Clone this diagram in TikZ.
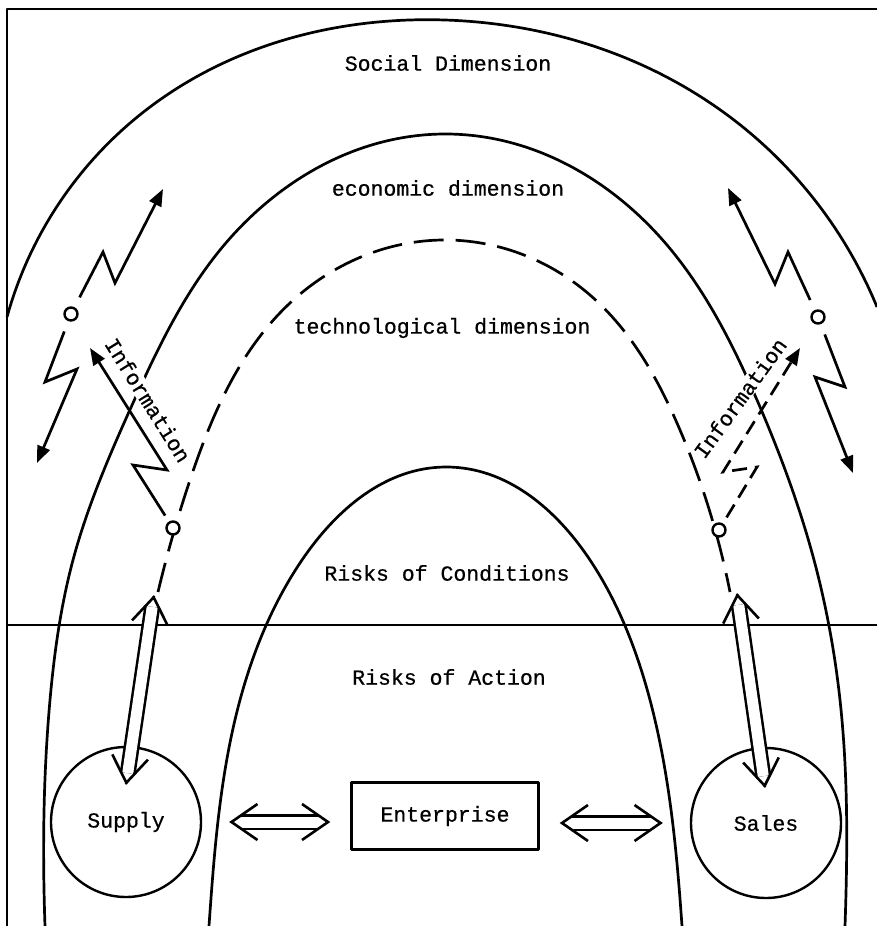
\documentclass[tikz,border=0pt]{standalone}
\usepackage{fontspec}
\newfontfamily\typew[FakeBold=0.6]{Liberation Mono}
\usetikzlibrary{hobby,arrows.meta,positioning,calc}

\begin{document}
\begin{tikzpicture}[
    x=1pt, y=-1pt,
    every path/.style={line width=2.7pt, line join=round},
    lbl/.style={font=\fontsize{21.5}{24}\selectfont\typew, inner sep=1pt},
    tech/.style={dash pattern=on 30pt off 12pt},
    infodash/.style={dash pattern=on 15pt off 8pt},
    knob/.style={circle, draw, fill=white, line width=2.4pt, minimum size=13pt, inner sep=0pt},
    bolt/.style={-{Triangle[length=17pt,width=13pt]}, line join=miter},
    dbl/.style={double, double distance=11pt, line width=2.5pt, shorten <=12pt, shorten >=12pt},
    chev/.style={-{Straight Barb[length=26pt,width=36pt,line width=2.6pt]}, line width=2.5pt},
]
    \useasboundingbox (0,0) rectangle (877,926);

    % frame and border between the two risk areas
    \draw (7,926) -- (7,9) -- (877,9);
    \draw[line width=2.4pt] (7,625) -- (877,625);

    % social / economic / technological dimension and risks of conditions
    \draw[use Hobby shortcut] (7,317) .. (150,107) .. (445,20) .. (730,117) .. (877,307);
    \draw[use Hobby shortcut] ([out angle=92]45,926) .. (50,700) .. (73,560)
        .. (133,403) .. (220,250) .. (445,134) .. (660,237) .. (757,400)
        .. (814,560) .. (840,700) .. ([in angle=88]845,926);
    \draw[tech, use Hobby shortcut] (158,592) .. (190,480) .. (290,303)
        .. (442,240) .. (590,295) .. (680,430) .. (730,592);
    \draw[use Hobby shortcut] ([out angle=86]209,926) .. (240,700) .. (302,560)
        .. (446,467) .. (590,560) .. (650,700) .. ([in angle=94]682,926);

    % labels
    \node[lbl] (soc) at (448,63) {Social Dimension};
    \node[lbl] (eco) at (448,188) {economic dimension};
    \node[lbl] (tec) at (442,328) {technological dimension};
    \node[lbl] (roc) at (447,573) {Risks of Conditions};
    \node[lbl] (roa) at (449,677) {Risks of Action};
    \node[lbl, fill=white, rotate=-58] (infl) at (148,400) {Information};
    \node[lbl, fill=white, rotate=54] (infr) at (740,398) {Information};

    \node[lbl, circle, draw, line width=2.4pt, minimum size=150pt] (sup) at (126,822) {Supply};
    \node[lbl, circle, draw, line width=2.4pt, minimum size=150pt] (sal) at (766,823) {Sales};
    \node[lbl, draw, line width=2.4pt, minimum width=187pt, minimum height=67pt] (ent) at (445,816) {Enterprise};

    % small circles
    \node[knob] (lk) at (71,314) {};
    \node[knob] (rk) at (818,317) {};
    \node[knob] (lt) at (173,528) {};
    \node[knob] (rt) at (719,530) {};

    \coordinate (lup) at (163,189);
    \coordinate (ldn) at (37,463);
    \coordinate (linf) at (90,348);
    \coordinate (rup) at (728,188);
    \coordinate (rdn) at (853,473);
    \coordinate (rinf) at (800,348);

    % flashes
    \draw[bolt, shorten <=11pt] (lk) -- (103,252) -- (115,283) -- (lup);
    \draw[bolt, shorten <=11pt] (lk) -- (45,382) -- (77,369) -- (ldn);
    \draw[bolt, shorten <=7pt] (lt) -- (133,465) -- (167,470) -- (linf);
    \draw[bolt, shorten <=11pt] (rk) -- (788,252) -- (775,284) -- (rup);
    \draw[bolt, shorten <=11pt] (rk) -- (845,387) -- (815,377) -- (rdn);
    \draw[bolt, infodash, shorten <=7pt] (rt) -- (757,467) -- (723,472) -- (rinf);

    % exchange arrows
    \coordinate (supin) at (126,785);
    \coordinate (suptop) at (154,595);
    \coordinate (salin) at (765,788);
    \coordinate (saltop) at (737,593);
    \coordinate[right=27pt of sup.east] (se);
    \coordinate[left=20pt of sup.east -| ent.west] (ew);
    \coordinate[right=20pt of sal.west -| ent.east] (ee);
    \coordinate[left=27pt of sal.west] (sw);
    \foreach \a/\b in {supin/suptop, salin/saltop, se/ew, ee/sw} {
        \draw[dbl] (\a) -- (\b);
        \draw[chev] ($(\a)!1pt!(\b)$) -- (\a);
        \draw[chev] ($(\b)!1pt!(\a)$) -- (\b);
    }
\end{tikzpicture}
\end{document}
